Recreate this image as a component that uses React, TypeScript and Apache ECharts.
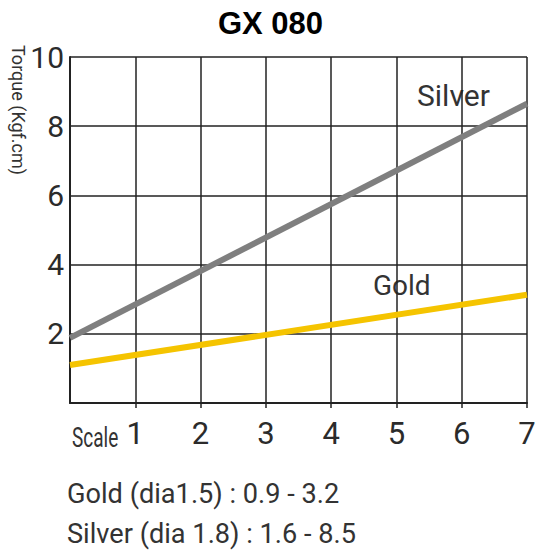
import React, { useEffect, useRef } from "react";
import * as echarts from "echarts";

const title = "GX 080";
const yAxisName = "Torque (Kgf.cm)";
const scaleLabel = "Scale";
const silverData: [number, number][] = [[0, 1.88], [7, 8.65]];
const goldData: [number, number][] = [[0, 1.1], [7, 3.13]];
const notes = ["Gold (dia1.5) : 0.9 - 3.2", "Silver (dia 1.8) : 1.6 - 8.5"];
const FONT = "Roboto, 'Noto Sans', sans-serif";

export default function App() {
  const ref = useRef<HTMLDivElement>(null);
  useEffect(() => {
    if (!ref.current) return;
    const chart = echarts.init(ref.current, undefined, { renderer: "svg" });
    chart.setOption({
      animation: false,
      backgroundColor: "#fff",
      title: {
        text: title,
        left: "center",
        top: 3,
        textStyle: { fontFamily: "Arial, 'Liberation Sans', sans-serif", fontWeight: "bold", fontSize: 31, color: "#000" },
      },
      grid: { left: 70, right: 14, top: 57, bottom: 156, containLabel: false, show: false },
      xAxis: {
        type: "value",
        min: 0,
        max: 7,
        interval: 1,
        axisLine: { show: true, lineStyle: { color: "#222", width: 2 } },
        axisTick: { show: true, length: 5, lineStyle: { color: "#222", width: 1.5 } },
        splitLine: { show: true, lineStyle: { color: "#222", width: 1.5 } },
        axisLabel: {
          showMinLabel: false,
          margin: 15,
          fontFamily: FONT,
          fontSize: 31,
          color: "#2b2b2b",
          formatter: (v: number) => (v === 0 ? "" : String(v)),
        },
      },
      yAxis: {
        type: "value",
        min: 0,
        max: 10,
        interval: 2,
        axisLine: { show: true, lineStyle: { color: "#222", width: 2 } },
        axisTick: { show: false },
        splitLine: { show: true, lineStyle: { color: "#222", width: 1.5 } },
        axisLabel: {
          showMinLabel: false,
          margin: 6,
          fontFamily: FONT,
          fontSize: 30,
          color: "#2b2b2b",
          padding: [8, 0, 0, 0],
        },
      },
      series: [
        {
          name: "Silver",
          type: "line",
          data: silverData,
          symbol: "none",
          lineStyle: { color: "#7f7f7f", width: 6 },
          z: 3,
        },
        {
          name: "Gold",
          type: "line",
          data: goldData,
          symbol: "none",
          lineStyle: { color: "#f5c400", width: 6 },
          z: 3,
        },
      ],
      graphic: [
        {
          type: "text",
          x: 9,
          y: 45,
          rotation: -Math.PI / 2,
          style: { text: yAxisName, fontFamily: FONT, fontSize: 18, fill: "#333", textAlign: "left", textVerticalAlign: "bottom" },
        },
        {
          type: "text",
          x: 72,
          y: 438,
          scaleX: 0.68,
          style: { text: scaleLabel, fontFamily: FONT, fontSize: 28, fill: "#333", textAlign: "left", textVerticalAlign: "middle" },
        },
        {
          type: "text",
          x: 417,
          y: 95,
          style: { text: "Silver", fontFamily: FONT, fontSize: 30, fill: "#333", textAlign: "left", textVerticalAlign: "middle" },
        },
        {
          type: "text",
          x: 373,
          y: 285,
          style: { text: "Gold", fontFamily: FONT, fontSize: 28, fill: "#333", textAlign: "left", textVerticalAlign: "middle" },
        },
        {
          type: "text",
          x: 67,
          y: 493,
          scaleX: 0.97,
          style: { text: notes[0], fontFamily: FONT, fontSize: 28, fill: "#333", textAlign: "left", textVerticalAlign: "middle" },
        },
        {
          type: "text",
          x: 67,
          y: 533,
          scaleX: 0.97,
          style: { text: notes[1], fontFamily: FONT, fontSize: 28, fill: "#333", textAlign: "left", textVerticalAlign: "middle" },
        },
      ],
    });
    return () => chart.dispose();
  }, []);
  return <div ref={ref} style={{ width: 541, height: 559, position: "absolute", left: 0, top: 0 }} />;
}
